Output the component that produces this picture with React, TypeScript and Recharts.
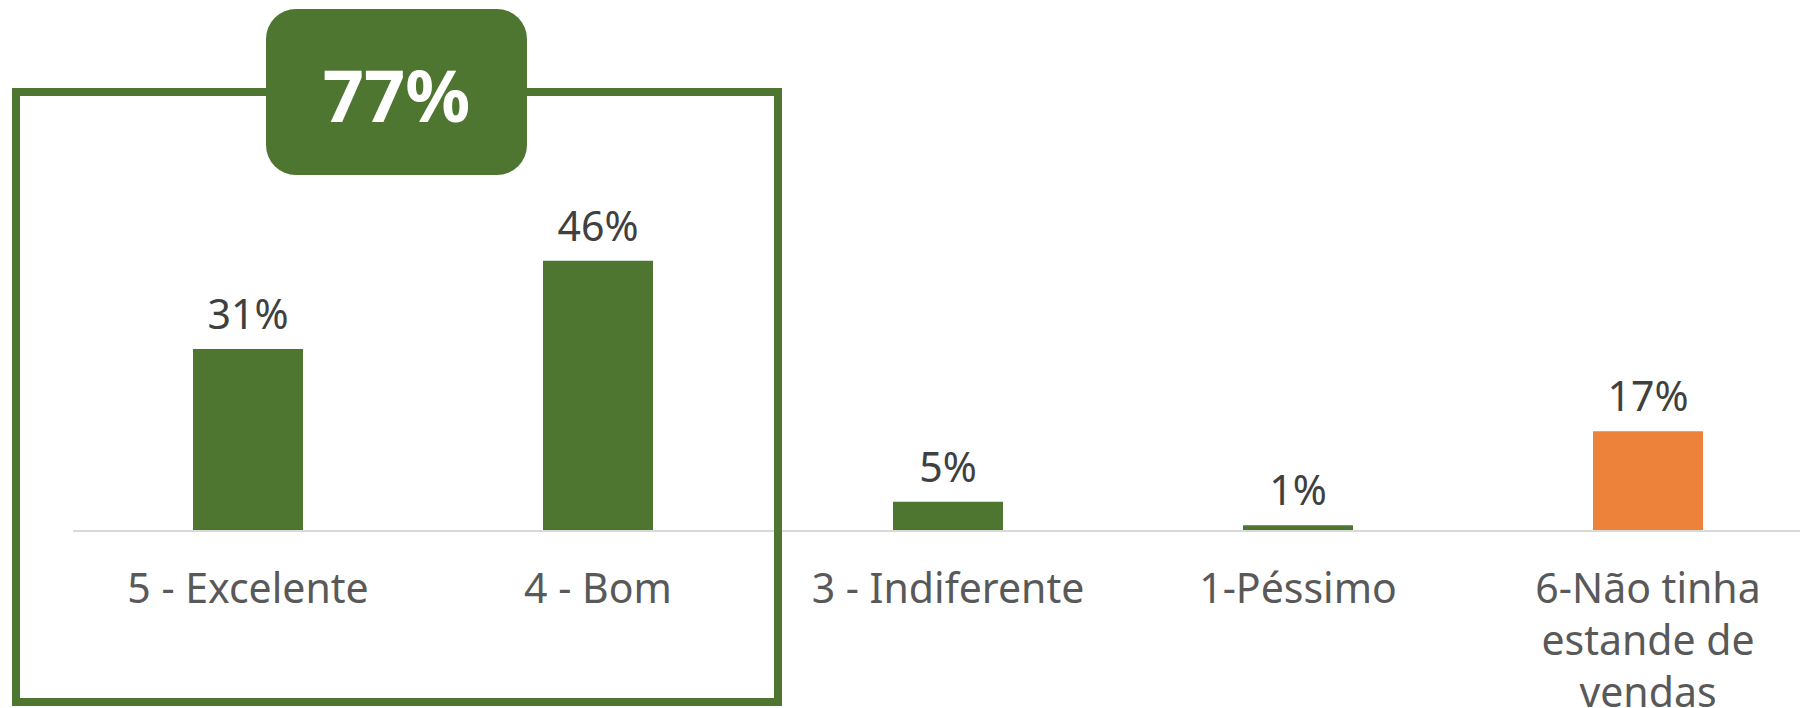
import { BarChart, Bar, XAxis, YAxis, Cell, LabelList } from "recharts"

const CATEGORIES = ["5 - Excelente", "4 - Bom", "3 - Indiferente", "1-Péssimo", "6-Não tinha\nestande de\nvendas"]
const VALUES = [31, 46, 5, 1, 17]
const COLORS = ["#4e7630", "#4e7630", "#4e7630", "#4e7630", "#ed823b"]
const HIGHLIGHT = [0, 1]

const GREEN = "#4e7630"
const FONT = "'Noto Sans', Tahoma, sans-serif"

const data = CATEGORIES.map((name, i) => ({ name, value: VALUES[i] }))
const highlightTotal = HIGHLIGHT.reduce((s, i) => s + VALUES[i], 0)

const CategoryTick = ({ x, y, payload }: any) => {
  const lines = String(payload.value).split("\n")
  return (
    <text x={x} y={y} textAnchor="middle" fill="#595959" fontSize={41} fontFamily={FONT}>
      {lines.map((l, i) => (
        <tspan key={i} x={x} dy={i === 0 ? 72 : 52}>{l}</tspan>
      ))}
    </text>
  )
}

const ValueLabel = ({ x, y, width, value }: any) => (
  <text x={x + width / 2} y={y - 20} textAnchor="middle" fill="#404040" fontSize={41} fontFamily={FONT}>
    {value}%
  </text>
)

export default function App() {
  return (
    <div style={{ position: "fixed", left: 0, top: 0, width: 1800, height: 708, overflow: "hidden", background: "#fff" }}>
      <BarChart width={1824} height={708} data={data} margin={{ top: 61, right: 1, left: 73, bottom: 0 }}>
        <XAxis
          dataKey="name"
          interval={0}
          tickLine={false}
          tickSize={0}
          tickMargin={0}
          axisLine={{ stroke: "#d9d9d9", strokeWidth: 2 }}
          tick={<CategoryTick />}
          height={177}
        />
        <YAxis hide domain={[0, 80]} />
        <Bar dataKey="value" barSize={110} isAnimationActive={false}>
          {data.map((_, i) => (
            <Cell key={i} fill={COLORS[i]} />
          ))}
          <LabelList dataKey="value" content={<ValueLabel />} />
        </Bar>
      </BarChart>

      {/* bracket box around the positive answers */}
      <div style={{
        position: "absolute", left: 12, top: 88, width: 770, height: 618,
        border: `8px solid ${GREEN}`, boxSizing: "border-box", pointerEvents: "none",
      }} />
      <div style={{
        position: "absolute", left: 266, top: 9, width: 261, height: 166,
        background: GREEN, borderRadius: 30, display: "flex", alignItems: "center", justifyContent: "center",
        color: "#fff", fontFamily: FONT, fontWeight: 700, fontSize: 72, lineHeight: 1,
      }}>
        <span style={{ marginTop: 4 }}>{highlightTotal}%</span>
      </div>
    </div>
  )
}
